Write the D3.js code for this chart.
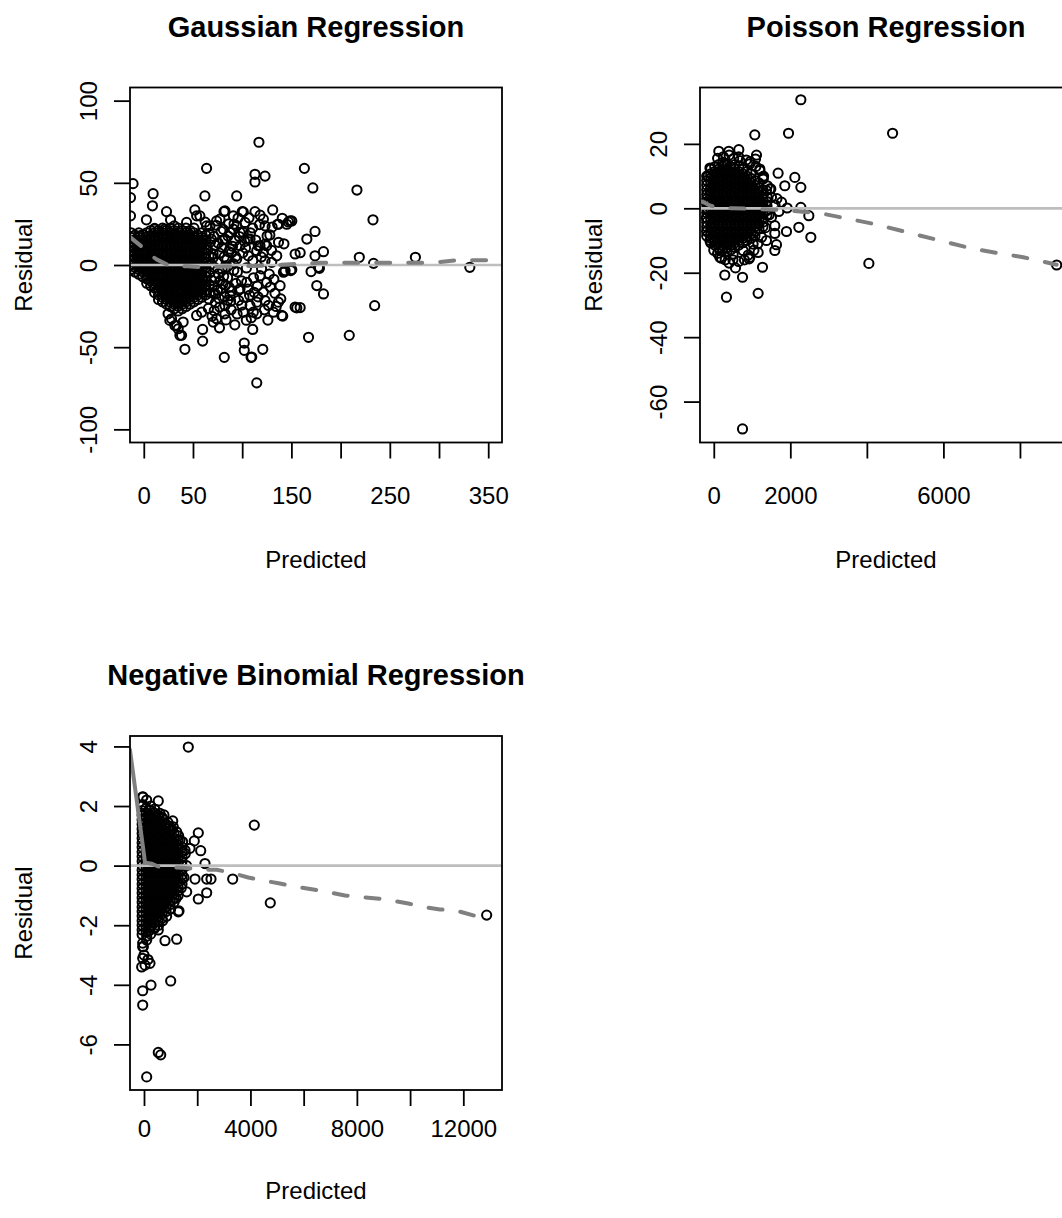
<!DOCTYPE html>
<html><head><meta charset="utf-8">
<script src="https://cdn.jsdelivr.net/npm/d3@7"></script>
<style>
body{margin:0;background:#fff}
text{font-family:"Liberation Sans",Arial,Helvetica,sans-serif}
</style>
</head><body>
<svg id="c" width="1062" height="1218"></svg>
<script>
// ---------------- DATA ----------------
const panelTitles = ["Gaussian Regression", "Poisson Regression", "Negative Binomial Regression"];
const xAxisTitle = "Predicted";
const yAxisTitle = "Residual";

// plotted axis limits (incl. R's 4% padding)
const gaussXLim = [-14, 364], gaussYLim = [-108, 108];
const poisXLim = [-360, 9360], poisYLim = [-72.7, 37.5];
const nbXLim = [-526, 13454], nbYLim = [-7.53, 4.35];

const gaussXTicks = [0, 50, 100, 150, 200, 250, 300, 350];
const gaussXLabels = [0, 50, 150, 250, 350];
const gaussYTicks = [-100, -50, 0, 50, 100];
const poisXTicks = [0, 2000, 4000, 6000, 8000];
const poisXLabels = [0, 2000, 6000];
const poisYTicks = [-60, -40, -20, 0, 20];
const nbXTicks = [0, 2000, 4000, 6000, 8000, 10000, 12000];
const nbXLabels = [0, 4000, 8000, 12000];
const nbYTicks = [-6, -4, -2, 0, 2, 4];

// Gaussian: scattered points [predicted, residual]
const gaussianPoints = [
[117,74.7],[63.8,58.8],[163.2,58.8],[113,55.2],[123.2,54.1],[113,50.5],[-10.9,49.5],[171.8,46.9],[216.6,45.6],[9.5,43.4],[62.1,42],[94.4,42],[-13.5,41],[8.8,36],[232.9,27.5],[51.9,33.5],[23.1,32.5],[-13.5,29.9],[2.7,27.5],[27.2,27.5],[131,33.5],[113,32.5],[100,32.5],[81.5,32.5],[91,29.9],[136,24.8],[147,26.2],[150.4,26.8],[174,20.4],[165.7,15.8],[153.8,6.7],[182.6,8.1],[174,5.6],[219,4.7],[276,4.7],[233.5,1],[331.3,-1.4],[178.5,-2],[170,-4],[143.6,-3.4],[150.4,-2.8],[175.8,-12.5],[182.6,-17.6],[123.2,2.6],[118.1,11.7],[124.9,11.7],[135.1,5.6],[106.2,15.8],[91,21.8],[87.6,19.8],[97.8,19.8],[102.9,25.9],[121.5,27.9],[123.2,23.8],[74,26.8],[77.4,27.9],[63.8,23.8],[43.5,25.9],[53.7,29.9],[21.4,21.8],[11.2,21.8],[-4,17.8],
[114.8,-71.7],[81.8,-56.2],[109,-56.2],[120.9,-51.3],[102.1,-47.5],[102.1,-51.9],[41.8,-51.3],[59.8,-46.3],[59.8,-39.2],[110.7,-39.2],[167.4,-44],[208.8,-42.8],[234.6,-24.7],[155.5,-26.1],[141.2,-31.1],[131.7,-28.7],[136.8,-22.6],[142.9,-4],[149.4,-3.4],[35,-38.8],[38.4,-42.8],[33.3,-36.8],[28.2,-32.7],[24.7,-29.7],[40,-34.7],[53.7,-30.7],[74,-32.7],[82.5,-29.7],[70.6,-34.7],[114.8,-29.7],[140.2,-30.7],[153.8,-25.6],
[57,29.9],[101.1,32.3],[82.5,32.9],[148.7,26.8],[145.3,24.8],[136.8,24.8],[123.2,12.7],[116.4,11.7],[121.5,7.7],[114.8,8.7],[108,15.8],[101.1,19.8],[94.4,23.8],[67.2,23.8],[82.5,15.8],[87.6,9.7],[97.8,11.7],[106.2,5.6],[94.4,3.6],[130,1.6],[141.9,-4.4],[177.5,-1.4],[123.2,-21.6],[114.8,-22.6],[108,-24.7],[111.3,-28.7],[101.1,-28.7],[121.5,-16.5],[124.9,-10.5],[118.1,-6.5],[104.6,-10.5],[97.8,-14.5],[87.6,-18.6],[82.5,-24.7],[58.8,-28.7],[36.7,-42.8],[31.6,-36.8],[26.5,-33.7],[109.7,-56],[158.9,7.5],[158.9,-25.9],
[70.5,4.6],[75.8,-5.3],[79.4,10.8],[85.2,-7.6],[90.7,0.9],[95.1,-4.2],[100.6,7.4],[104.3,-1.8],[110.8,2.7],[115.4,-12.8],[119.7,-2.3],[128.6,-13.4],[132.2,-8.7],[112.1,-16.6],[96.4,-21.5],[88.7,-27.2],[78.3,-14.6],[72.8,-22.9],[66.4,-12.2],[64.9,9.1],[68.7,15.7],[71.6,-27.8],[84.4,3.3],[92.6,14.8],[99.3,-9.6],[107.5,-18.4],[126.8,-24.6],[133.3,-17.2],[138.5,-12.6],[142.4,12.9],[128.1,18.3],[110.6,22.5],[104.2,-33.6],[92.5,-36.4],[76.9,-38.2],[95.8,28.6],[86.3,25.1],[78.6,20.4],[106.9,28.7],[118.2,30.3],[130.4,23.1],[140.7,28.4],
[66.5,19.2],[67.8,14.1],[66.2,5.5],[68.4,0.6],[67.1,-4.8],[68.9,-9.4],[67.3,-16.8],[66.1,-20.7],
[71.2,17.4],[72.6,11.9],[70.4,6.8],[71.9,-1.5],[72.3,-7.4],[71.5,-12.9],[72.8,-17.6],
[75.6,13.4],[76.9,7.2],[74.7,1.4],[77.4,-9.5],[74.9,-15.2],[76.5,-20.4],
[80.3,15.2],[81.7,4.9],[79.6,-2.4],[81.2,-6.9],[80.5,-11.6],[82.1,-19.3],
[85.6,17.6],[86.4,8.1],[84.8,-1.1],[86.9,-13.6],[85.3,-21.5],
[90.2,11.4],[91.5,-3.2],[89.4,-15.8],[93.4,5.1],[96.7,-15.3],[102.5,14.2],
[62.4,26.1],[65.7,-26.4],[69.3,-31.2],[73.5,24.2],[77.2,-25.6],[80.8,21.7],[83.6,-33.4],[88.2,-22.1],[91.7,24.9],[94.8,-29.8],[97.1,17.3],[99.6,-24.4],[103.4,10.3],[105.8,-14.7],[108.4,19.6],[111.5,-7.8],[113.7,15.2],[116.2,-19.4],[119.4,4.9],[122.6,-27.3],[125.3,17.6],[127.5,-5.6],[129.8,8.9],[134.6,-25.2],[136.9,13.8],[139.2,-20.6],[93.7,-11.2],[89.1,7.4],[101.8,-19.6],[109.2,-32.1],[117.6,24.6],[126.1,-33.5],[70.9,-17.4],[83.1,-12.3]
];
// Gaussian dense core: [predicted, [residuals...]]
const gaussianCore = [
[-13,[19.6,16.8,14.1,11.2,8.4,5.5,2.8,0.1,-2.8]],
[-9,[18.2,15.4,12.6,9.7,7.1,4.2,1.4,-1.4,-4.3]],
[-5,[19.5,16.8,14,11.3,8.4,5.6,2.9,0,-2.8,-5.6]],
[-1,[18.3,15.4,12.5,9.8,7,4.1,1.4,-1.5,-4.2,-7.1]],
[3,[19.6,16.9,14,11.2,8.3,5.6,2.8,0.1,-2.8,-5.7,-8.4,-11.1]],
[7,[21,18.1,15.4,12.6,9.9,7,4.2,1.3,-1.4,-4.2,-7.1,-9.8,-12.6]],
[11,[22.3,19.6,16.8,14.1,11.2,8.4,5.5,2.8,0,-2.8,-5.6,-8.5,-11.2,-14,-16.8]],
[15,[21,18.2,15.3,12.6,9.8,7.1,4.2,1.4,-1.3,-4.2,-7,-9.8,-12.7,-15.4,-18.2,-21]],
[19,[22.4,19.5,16.8,14,11.3,8.4,5.6,2.7,0,-2.8,-5.6,-8.3,-11.2,-14,-16.9,-19.6,-22.4]],
[23,[21.1,18.2,15.4,12.5,9.8,7,4.3,1.4,-1.4,-4.2,-7,-9.9,-12.6,-15.4,-18.1,-21,-23.8]],
[27,[22.4,19.6,16.7,14,11.2,8.5,5.6,2.8,-0.1,-2.8,-5.6,-8.4,-11.1,-14,-16.8,-19.6,-22.5,-25.2]],
[31,[23.8,21,18.2,15.5,12.6,9.8,6.9,4.2,1.4,-1.4,-4.1,-7,-9.8,-12.6,-15.4,-18.3,-21,-23.8,-26.6]],
[35,[22.4,19.7,16.8,14,11.2,8.3,5.6,2.8,0,-2.9,-5.6,-8.4,-11.2,-14.1,-16.8,-19.6,-22.4,-25.1,-28]],
[39,[21,18.2,15.4,12.7,9.8,7,4.2,1.5,-1.4,-4.2,-7.1,-9.8,-12.6,-15.4,-18.2,-21,-23.9,-26.6]],
[43,[22.4,19.6,16.8,13.9,11.2,8.4,5.7,2.8,0,-2.8,-5.5,-8.4,-11.2,-14,-16.8,-19.7,-22.4,-25.2]],
[47,[21,18.3,15.4,12.6,9.8,7,4.1,1.4,-1.4,-4.2,-7,-9.7,-12.6,-15.4,-18.2,-21,-23.8]],
[51,[22.4,19.6,16.8,14,11.1,8.4,5.6,2.8,0.1,-2.8,-5.6,-8.4,-11.3,-14,-16.8,-19.6,-22.4]],
[55,[18.2,15.4,12.6,9.9,7,4.2,1.4,-1.4,-4.3,-7,-9.8,-12.6,-15.3,-18.2,-21]],
[59,[19.6,16.8,14,11.2,8.5,5.6,2.8,0,-2.8,-5.6,-8.5,-11.2,-14,-16.8,-19.6]],
[63,[18.2,15.5,12.6,9.8,7,4.2,1.3,-1.4,-4.2,-7,-9.8,-12.5,-15.4,-18.2]]
];
const gaussianLowess = [[-14,17],[-1,10.7],[6,6.5],[13,3.4],[26,-0.4],[45,-0.8],[60,-1.3],[75,-1.0],[100,-0.8],[121,-0.4],[140,0.1],[160,0.8],[180,1.4],[230,1.4],[286,1.4],[300,1.7],[319,2.9],[366,3.0]];

// Poisson
const poissonPoints = [
[2275,33.7],[1072,22.8],[1953,23.3],[4672,23.3],[131,17.7],[392,17.7],[654,18.2],[1116,16.5],[1090,15.3],[1681,10.9],[2118,9.6],[1856,7],[2275,6.5],[1203,12.2],[1290,9.6],[1490,6],[2275,0.3],[2484,-2.3],[2222,-5.9],[2536,-9],[1900,-7.2],[1595,-7.8],[1638,-11.3],[1595,-13.1],[1273,-18.3],[1159,-26.4],[751,-21.4],[288,-20.7],[331,-27.6],[567,-18.5],[157,-15.2],[923,-15.7],[4052,-17.1],[8959,-17.6],[751,-68.5],
[1464,6],[1508,3.4],[1770,1.9],[1917,0.1],[1159,-13.7],[1377,-10],[1595,-5.4],[1508,-2.8],[1290,0.3],[1377,5.5],[1290,9.1],[1203,11.7],[941,13.8],[680,14.8],[288,13.8],[26,10.7],[-105,5.5],[-149,-0.7],[-60,-5.9],[26,-10],[157,-13.1],[505,-14.2],[766,-13.1],[1027,-11.1],[941,-15.2],
[100,15.5],[250,16],[400,16.5],[520,15.5],[650,16],[850,15],[950,14.5],[1100,13],[-150,10],[-100,12.5],[1300,10],[1400,7],[1450,-2],[1350,-6],[1250,-9],[1150,-11],[1050,-13],[900,-14.5],[800,-16],[650,-16.5],[500,-16],[400,-17],[300,-16],[200,-15.5],[100,-14],[0,-13],[-100,-10],[-180,-7],[-200,2],[-190,-3],[1600,1],[1700,-1],[1650,3]
];
const poissonCore = [
[-185,[10,8.6,7.2,5.7,4.3,2.9,1.4,0,-1.4,-2.9,-4.3,-5.7,-7.2,-8.6]],
[-80,[12.2,10.7,9.3,7.9,6.4,5,3.6,2.1,0.7,-0.7,-2.1,-3.6,-5,-6.4,-7.9,-9.3,-10.7]],
[25,[12.9,11.4,10,8.6,7.2,5.7,4.3,2.9,1.4,0,-1.4,-2.9,-4.3,-5.7,-7.2,-8.6,-10,-11.4]],
[130,[13.6,12.2,10.7,9.3,7.9,6.4,5,3.6,2.1,0.7,-0.7,-2.1,-3.6,-5,-6.4,-7.9,-9.3,-10.7,-12.2]],
[235,[14.3,12.9,11.4,10,8.6,7.2,5.7,4.3,2.9,1.4,0,-1.4,-2.9,-4.3,-5.7,-7.2,-8.6,-10,-11.4,-12.9]],
[340,[13.6,12.2,10.7,9.3,7.9,6.4,5,3.6,2.1,0.7,-0.7,-2.1,-3.6,-5,-6.4,-7.9,-9.3,-10.7,-12.2,-13.6]],
[445,[12.9,11.4,10,8.6,7.2,5.7,4.3,2.9,1.4,0,-1.4,-2.9,-4.3,-5.7,-7.2,-8.6,-10,-11.4,-12.9]],
[550,[13.6,12.2,10.7,9.3,7.9,6.4,5,3.6,2.1,0.7,-0.7,-2.1,-3.6,-5,-6.4,-7.9,-9.3,-10.7,-12.2]],
[655,[12.9,11.4,10,8.6,7.2,5.7,4.3,2.9,1.4,0,-1.4,-2.9,-4.3,-5.7,-7.2,-8.6,-10,-11.4]],
[760,[12.2,10.7,9.3,7.9,6.4,5,3.6,2.1,0.7,-0.7,-2.1,-3.6,-5,-6.4,-7.9,-9.3,-10.7]],
[865,[11.4,10,8.6,7.2,5.7,4.3,2.9,1.4,0,-1.4,-2.9,-4.3,-5.7,-7.2,-8.6,-10]],
[970,[10.7,9.3,7.9,6.4,5,3.6,2.1,0.7,-0.7,-2.1,-3.6,-5,-6.4,-7.9,-9.3]],
[1075,[8.6,7.2,5.7,4.3,2.9,1.4,0,-1.4,-2.9,-4.3,-5.7,-7.2,-8.6]],
[1180,[7.9,6.4,5,3.6,2.1,0.7,-0.7,-2.1,-3.6,-5,-6.4]],
[1285,[5.7,4.3,2.9,1.4,0,-1.4,-2.9,-4.3,-5.7]],
[1390,[3.6,2.1,0.7,-0.7,-2.1]]
];
const poissonLowess = [[-370,2.3],[-250,1.8],[-105,0.9],[50,0.4],[243,0.1],[500,0],[800,-0.1],[1159,-0.2],[1987,-0.7],[2857,-1.7],[4166,-4.8],[5038,-7.4],[5908,-10],[6780,-12.6],[8086,-15.2],[8960,-17.5]];

// Negative binomial
const nbPoints = [
[1665,3.98],[4145,1.36],[-49,2.31],[-49,2.05],[537,2.17],[1079,1.5],[2041,1.1],[1890,0.83],[2131,0.5],[2292,0.07],[2356,-0.45],[2518,-0.45],[3333,-0.45],[1917,-0.45],[2356,-0.91],[2041,-1.12],[4746,-1.25],[12878,-1.66],[1315,-1.52],[1229,-2.47],[789,-2.52],[101,-2.37],[-49,-2.72],[-49,-3.11],[38,-3.34],[225,-3.28],[-87,-3.4],[1003,-3.87],[263,-4.01],[-49,-4.2],[-49,-4.68],[537,-6.27],[628,-6.35],[101,-7.09],
[225,1.86],[688,1.58],[1229,1.13],[1041,1.19],[1353,0.86],[1541,0.52],[1729,0.58],[1604,-0.88],[1290,-1.55],[537,-2.16],[-26,-2.72],[0,-3.0],[150,-3.15],
[-40,2.3],[100,2.2],[250,2.0],[400,1.9],[600,1.75],[750,1.7],[900,1.45],[1100,1.3],[1300,1.0],[1450,0.8],[1550,0.4],[1600,0],[1500,-0.4],[1400,-0.75],[1200,-1.1],[1000,-1.45],[850,-1.7],[700,-1.85],[550,-2.0],[400,-2.1],[250,-2.3],[100,-2.5],[-50,-2.6]
];
const nbCore = [
[-70,[2.0,1.85,1.69,1.54,1.39,1.23,1.08,0.92,0.77,0.62,0.46,0.31,0.15,0,-0.15,-0.31,-0.46,-0.62,-0.77,-0.92,-1.08,-1.23,-1.39,-1.54,-1.69,-1.85,-2.0,-2.16,-2.31]],
[80,[1.93,1.77,1.62,1.46,1.31,1.16,1.0,0.85,0.69,0.54,0.38,0.23,0.08,-0.08,-0.23,-0.38,-0.54,-0.69,-0.85,-1.0,-1.16,-1.31,-1.46,-1.62,-1.77,-1.93,-2.08,-2.23]],
[230,[1.85,1.69,1.54,1.39,1.23,1.08,0.92,0.77,0.62,0.46,0.31,0.15,0,-0.15,-0.31,-0.46,-0.62,-0.77,-0.92,-1.08,-1.23,-1.39,-1.54,-1.69,-1.85,-2.0,-2.16]],
[380,[1.77,1.62,1.46,1.31,1.16,1.0,0.85,0.69,0.54,0.38,0.23,0.08,-0.08,-0.23,-0.38,-0.54,-0.69,-0.85,-1.0,-1.16,-1.31,-1.46,-1.62,-1.77,-1.93,-2.08]],
[530,[1.69,1.54,1.39,1.23,1.08,0.92,0.77,0.62,0.46,0.31,0.15,0,-0.15,-0.31,-0.46,-0.62,-0.77,-0.92,-1.08,-1.23,-1.39,-1.54,-1.69,-1.85]],
[680,[1.62,1.46,1.31,1.16,1.0,0.85,0.69,0.54,0.38,0.23,0.08,-0.08,-0.23,-0.38,-0.54,-0.69,-0.85,-1.0,-1.16,-1.31,-1.46,-1.62,-1.77]],
[830,[1.39,1.23,1.08,0.92,0.77,0.62,0.46,0.31,0.15,0,-0.15,-0.31,-0.46,-0.62,-0.77,-0.92,-1.08,-1.23,-1.39,-1.54]],
[980,[1.31,1.16,1.0,0.85,0.69,0.54,0.38,0.23,0.08,-0.08,-0.23,-0.38,-0.54,-0.69,-0.85,-1.0,-1.16,-1.31,-1.46]],
[1130,[1.08,0.92,0.77,0.62,0.46,0.31,0.15,0,-0.15,-0.31,-0.46,-0.62,-0.77,-0.92,-1.08,-1.23]],
[1280,[0.85,0.69,0.54,0.38,0.23,0.08,-0.08,-0.23,-0.38,-0.54,-0.69,-0.85,-1.0]],
[1430,[0.62,0.46,0.31,0.15,0,-0.15,-0.31,-0.46,-0.62]]
];
const nbLowess = [[-530,3.9],[40,0.1],[300,0.06],[537,-0.03],[977,-0.06],[1477,-0.07],[2041,-0.13],[2732,-0.14],[3296,-0.24],[3920,-0.4],[4483,-0.5],[5106,-0.6],[5611,-0.7],[6363,-0.8],[6866,-0.88],[7554,-1.0],[8054,-1.05],[8744,-1.1],[9245,-1.16],[9933,-1.27],[10436,-1.38],[11124,-1.47],[11687,-1.5],[12375,-1.67],[12878,-1.7]];
const nbSolidUntil = 40;

// ---------------- DRAW ----------------
const expand = cols => cols.flatMap(([x, ys]) => ys.map(y => [x, y]));
const svg = d3.select("#c");
svg.append("rect").attr("width", 1062).attr("height", 1218).attr("fill", "#fff");
const FONT = '"Liberation Sans", Arial, Helvetica, sans-serif';

const panels = [
  {title: panelTitles[0], left: 130, top: 87.5, width: 372, height: 355, xLim: gaussXLim, yLim: gaussYLim,
   points: gaussianPoints.concat(expand(gaussianCore)), lowess: gaussianLowess, solidUntil: null,
   xTicks: gaussXTicks, xLabels: gaussXLabels, yTicks: gaussYTicks, labY: 61, titY: 125},
  {title: panelTitles[1], left: 700, top: 87.5, width: 372, height: 355, xLim: poisXLim, yLim: poisYLim,
   points: poissonPoints.concat(expand(poissonCore)), lowess: poissonLowess, solidUntil: null,
   xTicks: poisXTicks, xLabels: poisXLabels, yTicks: poisYTicks, labY: 61, titY: 125},
  {title: panelTitles[2], left: 130, top: 736, width: 372, height: 354, xLim: nbXLim, yLim: nbYLim,
   points: nbPoints.concat(expand(nbCore)), lowess: nbLowess, solidUntil: nbSolidUntil,
   xTicks: nbXTicks, xLabels: nbXLabels, yTicks: nbYTicks, labY: 47, titY: 109}
];

const defs = svg.append("defs");
panels.forEach((p, i) => {
  const g = svg.append("g");
  const x = d3.scaleLinear().domain(p.xLim).range([p.left, p.left + p.width]);
  const y = d3.scaleLinear().domain(p.yLim).range([p.top + p.height, p.top]);
  defs.append("clipPath").attr("id", "clip" + i).append("rect")
    .attr("x", p.left).attr("y", p.top).attr("width", p.width).attr("height", p.height);
  const plot = g.append("g").attr("clip-path", `url(#clip${i})`);

  plot.append("g").selectAll("circle").data(p.points).join("circle")
    .attr("cx", d => x(d[0])).attr("cy", d => y(d[1])).attr("r", 4.6)
    .attr("fill", "none").attr("stroke", "#000").attr("stroke-width", 2.0);

  plot.append("line").attr("x1", p.left).attr("x2", p.left + p.width)
    .attr("y1", y(0)).attr("y2", y(0)).attr("stroke", "#bebebe").attr("stroke-width", 2.7);

  const line = d3.line().x(d => x(d[0])).y(d => y(d[1]));
  let dashedPart = p.lowess;
  if (p.solidUntil !== null) {
    const solid = p.lowess.filter(d => d[0] <= p.solidUntil);
    dashedPart = p.lowess.filter(d => d[0] >= p.solidUntil);
    plot.append("path").attr("d", line(solid)).attr("fill", "none")
      .attr("stroke", "#808080").attr("stroke-width", 4).attr("stroke-linecap", "round").attr("stroke-linejoin", "round");
  }
  plot.append("path").attr("d", line(dashedPart)).attr("fill", "none")
    .attr("stroke", "#808080").attr("stroke-width", 4).attr("stroke-linecap", "round")
    .attr("stroke-linejoin", "round").attr("stroke-dasharray", "14,18");

  g.append("rect").attr("x", p.left).attr("y", p.top).attr("width", p.width).attr("height", p.height)
    .attr("fill", "none").attr("stroke", "#000").attr("stroke-width", 1.8);

  // x axis
  const gx = g.append("g").attr("transform", `translate(0,${p.top + p.height})`)
    .call(d3.axisBottom(x).tickValues(p.xTicks).tickSize(16).tickSizeOuter(0)
      .tickFormat(d => p.xLabels.includes(d) ? String(d) : ""));
  gx.select(".domain").remove();
  gx.attr("font-size", 24).attr("font-family", FONT);
  gx.selectAll(".tick line").attr("stroke", "#000").attr("stroke-width", 1.8);
  gx.selectAll(".tick text").attr("y", p.labY).attr("dy", null).attr("fill", "#000");

  // y axis
  const gy = g.append("g").attr("transform", `translate(${p.left},0)`)
    .call(d3.axisLeft(y).tickValues(p.yTicks).tickSize(16).tickSizeOuter(0).tickFormat(d => String(d)));
  gy.select(".domain").remove();
  gy.attr("font-size", 24).attr("font-family", FONT);
  gy.selectAll(".tick line").attr("stroke", "#000").attr("stroke-width", 1.8);
  gy.selectAll(".tick text").attr("x", null).attr("dy", null).attr("text-anchor", "middle")
    .attr("transform", "translate(-33,0) rotate(-90)").attr("fill", "#000");

  const cx = p.left + p.width / 2, cy = p.top + p.height / 2;
  g.append("text").attr("x", cx).attr("y", p.top - 51).attr("text-anchor", "middle")
    .attr("font-size", 29).attr("font-weight", "bold").attr("font-family", FONT).text(p.title);
  g.append("text").attr("x", cx).attr("y", p.top + p.height + p.titY).attr("text-anchor", "middle")
    .attr("font-size", 24).attr("font-family", FONT).text(xAxisTitle);
  g.append("text").attr("transform", `translate(${p.left - 98},${cy}) rotate(-90)`).attr("text-anchor", "middle")
    .attr("font-size", 24).attr("font-family", FONT).text(yAxisTitle);
});
</script>
</body></html>
